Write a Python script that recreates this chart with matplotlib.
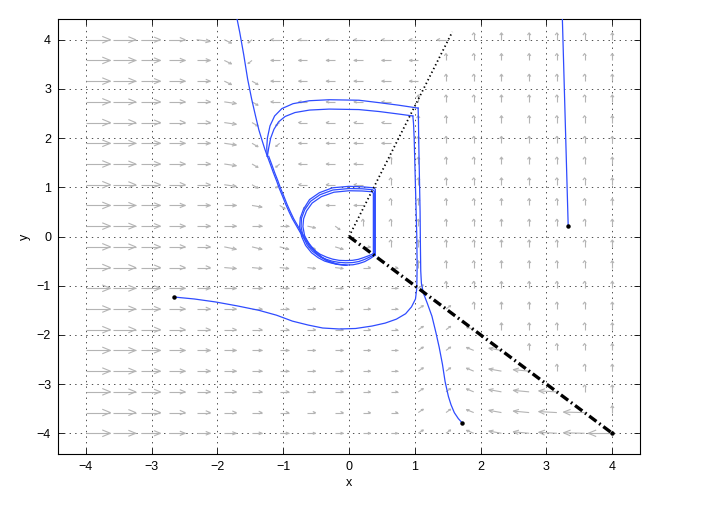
import numpy as np
import matplotlib
matplotlib.use("Agg")
import matplotlib.pyplot as plt
from matplotlib.collections import LineCollection

# ---------------- data ----------------
grid_x = np.linspace(-4, 4, 20)
grid_y = np.linspace(-4, 4, 20)

# drawn length (x units) of the right-pointing arrows, per column
u_right = [0.375, 0.339, 0.293, 0.248, 0.208, 0.182, 0.152, 0.137, 0.122, 0.122,
           0.114, 0.106, 0.076, 0.07, 0, 0, 0, 0, 0, 0]
v_right_low = [0, 0, 0, 0, 0, 0, 0, 0, 0, 0, 0, 0, 0.068, 0.068, 0, 0, 0, 0, 0, 0]
# lower-right sector (below the dash-dot line), per column
u_lowright = [0, 0, 0, 0, 0, 0, 0, 0, 0, 0, 0, 0, 0, 0,
              -0.11, -0.19, -0.24, -0.275, -0.32, -0.365]
v_lowright = [0, 0, 0, 0, 0, 0, 0, 0, 0, 0, 0, 0, 0, 0,
              0.06, 0.045, 0.03, 0.02, 0.01, 0.0]
# upward sector and upper-middle leftward arrows
v_up = 0.14
u_leftmid = -0.135
# switching x per row (upper half), nan where absent
g_rows = [np.nan] * 10 + [0.1, -0.85, -1.1, -1.2, -1.25, -1.3, -1.36, -1.42, -1.5, -1.6]

# guide lines
dot_line_x = [0, 1.57]
dot_line_y = [0, 4.16]
dash_line_x = [0, 4]
dash_line_y = [0, -4]

# trajectories
traj_top_x = [-1.72, -1.66, -1.60, -1.54, -1.48, -1.42, -1.37, -1.32, -1.28, -1.24]
traj_top_y = [4.55, 4.15, 3.7, 3.2, 2.8, 2.45, 2.17, 1.95, 1.78, 1.63]
traj_down_x = [-1.24, -1.19, -1.15, -1.10, -1.06, -1.01, -0.96, -0.91, -0.86, -0.80,
               -0.74, -0.67, -0.60, -0.52, -0.43, -0.33, -0.2, -0.05]
traj_down_y = [1.63, 1.45, 1.3, 1.13, 0.98, 0.82, 0.65, 0.5, 0.36, 0.22,
               0.08, -0.06, -0.19, -0.31, -0.42, -0.5, -0.56, -0.585]

traj_a_x = [-2.66, -2.35, -2.03, -1.7, -1.37, -1.1, -0.86, -0.62, -0.4, -0.15, 0.1,
            0.35, 0.55, 0.72, 0.86, 0.95, 1.01, 1.03, 1.035, 1.03, 1.02, 1.01,
            1.0, 0.99, 0.98, 0.97]
traj_a_y = [-1.23, -1.27, -1.33, -1.41, -1.5, -1.6, -1.72, -1.8, -1.86, -1.88, -1.87,
            -1.82, -1.76, -1.68, -1.57, -1.43, -1.27, -1.05, -0.6, 0.0, 0.5, 1.0,
            1.5, 2.0, 2.3, 2.45]
arc_in_x = [0.97, 0.75, 0.46, 0.15, -0.3, -0.6, -0.82, -0.97, -1.07, -1.14, -1.19, -1.22, -1.24]
arc_in_y = [2.45, 2.49, 2.54, 2.58, 2.59, 2.57, 2.52, 2.44, 2.33, 2.18, 2.0, 1.8, 1.63]

traj_b_x = [1.72, 1.66, 1.60, 1.55, 1.51, 1.46, 1.42, 1.37, 1.32, 1.26, 1.19, 1.13,
            1.1, 1.09, 1.085, 1.08, 1.07, 1.06, 1.055, 1.05]
traj_b_y = [-3.79, -3.7, -3.58, -3.42, -3.25, -2.95, -2.6, -2.25, -1.95, -1.62, -1.36,
            -1.15, -0.95, -0.7, -0.2, 0.5, 1.2, 1.9, 2.35, 2.61]
arc_out_x = [1.05, 0.75, 0.46, 0.15, -0.3, -0.6, -0.85, -1.02, -1.13, -1.2, -1.24, -1.25, -1.24]
arc_out_y = [2.61, 2.67, 2.72, 2.77, 2.78, 2.76, 2.7, 2.6, 2.45, 2.25, 2.0, 1.8, 1.63]

traj_c_x = [3.33, 3.24]
traj_c_y = [0.22, 4.5]

loop1_x = [0.40, 0.40, 0.40, 0.40, 0.37, 0.2, 0.0, -0.25, -0.45, -0.6, -0.69, -0.74,
           -0.75, -0.72, -0.66, -0.57, -0.47, -0.37, -0.27, -0.16, -0.05, 0.06, 0.15,
           0.24, 0.32, 0.40]
loop1_y = [-0.38, 0.2, 0.6, 0.96, 0.99, 1.01, 1.02, 0.99, 0.89, 0.75, 0.56, 0.38,
           0.2, 0.0, -0.18, -0.33, -0.43, -0.5, -0.54, -0.57, -0.58, -0.575, -0.55,
           -0.51, -0.45, -0.38]
loop2_x = [0.385, 0.385, 0.385, 0.385, 0.36, 0.2, 0.0, -0.245, -0.44, -0.585, -0.675,
           -0.722, -0.728, -0.7, -0.64, -0.555, -0.455, -0.355, -0.26, -0.16, -0.05,
           0.055, 0.145, 0.23, 0.31, 0.385]
loop2_y = [-0.37, 0.2, 0.6, 0.92, 0.95, 0.97, 0.975, 0.945, 0.85, 0.715, 0.54, 0.37,
           0.2, 0.01, -0.16, -0.3, -0.4, -0.46, -0.5, -0.525, -0.535, -0.53, -0.51,
           -0.47, -0.42, -0.37]
loop3_x = [0.37, 0.37, 0.37, 0.37, 0.345, 0.2, 0.0, -0.23, -0.42, -0.56, -0.645,
           -0.69, -0.7, -0.675, -0.615, -0.535, -0.44, -0.34, -0.25, -0.15, -0.05,
           0.05, 0.14, 0.22, 0.3, 0.37]
loop3_y = [-0.35, 0.2, 0.6, 0.88, 0.91, 0.925, 0.93, 0.9, 0.81, 0.68, 0.52, 0.36,
           0.2, 0.02, -0.14, -0.27, -0.36, -0.42, -0.46, -0.485, -0.49, -0.485, -0.465,
           -0.43, -0.39, -0.35]

start_x = [-2.66, 1.72, 3.33, 4.0]
start_y = [-1.23, -3.79, 0.22, -4.0]

# ---------------- build the arrow field ----------------
X, Y = np.meshgrid(grid_x, grid_y)
U = np.zeros_like(X)
V = np.zeros_like(X)
dot_angle = np.degrees(np.arctan2(dot_line_y[1], dot_line_x[1]))
for j in range(len(grid_y)):
    for i in range(len(grid_x)):
        x, y = grid_x[i], grid_y[j]
        th = np.degrees(np.arctan2(y, x))
        if -45 + 1e-6 < th < dot_angle:
            U[j, i], V[j, i] = 0.0, v_up
            continue
        if th <= -45 + 1e-6 and i >= 14:
            U[j, i], V[j, i] = u_lowright[i], v_lowright[i]
            continue
        g = g_rows[j]
        if not np.isnan(g) and x > g:
            d = x - g
            if d < 0.3:
                U[j, i], V[j, i] = -0.06, -0.065
            else:
                U[j, i], V[j, i] = u_leftmid, 0.0
            continue
        U[j, i] = u_right[i]
        V[j, i] = v_right_low[i]
        if not np.isnan(g):
            d = g - x
            if d < 0.5:
                U[j, i] *= 0.6
                V[j, i] = -0.07
            elif d < 0.8:
                V[j, i] = -0.035
        elif j == 9 and 5 <= i <= 9:
            V[j, i] = -0.05
        elif j == 8 and 5 <= i <= 9:
            V[j, i] = -0.02

# MATLAB-style open arrow heads
alpha, beta = 0.33, 0.55
segs = []
for x, y, u, v in zip(X.ravel(), Y.ravel(), U.ravel(), V.ravel()):
    if u == 0 and v == 0:
        continue
    tx, ty = x + u, y + v
    segs.append([(x, y), (tx, ty)])
    segs.append([(tx - alpha * (u + beta * v), ty - alpha * (v - beta * u)), (tx, ty),
                 (tx - alpha * (u - beta * v), ty - alpha * (v + beta * u))])

# ---------------- draw ----------------
plt.rcParams["font.family"] = ["Liberation Sans", "DejaVu Sans"]
plt.rcParams["lines.scale_dashes"] = False
fig = plt.figure(figsize=(7.06, 5.09), dpi=100)
ax = fig.add_axes([58 / 706, 55 / 509, 582 / 706, 435 / 509])

lim = 4 + 8 / 19
ax.set_xlim(-lim, lim)
ax.set_ylim(-lim, lim)
ax.set_xticks(range(-4, 5))
ax.set_yticks(range(-4, 5))
ax.grid(True, linestyle=(0, (1, 3)), color="0.3", linewidth=0.7)
ax.set_axisbelow(True)

ax.add_collection(LineCollection(segs, colors="#b4b4b4", linewidths=0.8, zorder=2))

blue = "#2f4cff"
lw = 0.9
for xs, ys in [(traj_top_x, traj_top_y), (traj_down_x, traj_down_y),
               (traj_a_x, traj_a_y), (arc_in_x, arc_in_y),
               (traj_b_x, traj_b_y), (arc_out_x, arc_out_y),
               (traj_c_x, traj_c_y), (loop1_x, loop1_y),
               (loop2_x, loop2_y), (loop3_x, loop3_y)]:
    ax.plot(xs, ys, color=blue, lw=lw, zorder=3, solid_joinstyle="round")
# descending copy of the merged arcs
ax.plot(np.array(traj_down_x) + 0.02, traj_down_y, color=blue, lw=lw, zorder=3)

ax.plot(dot_line_x, dot_line_y, color="black", lw=1.3, dashes=(1.0, 2.0), zorder=4)
ax.plot(dash_line_x, dash_line_y, color="black", lw=2.4,
        dashes=(6.5, 2.5, 1.2, 2.5), zorder=4)
ax.plot(start_x, start_y, "o", color="black", ms=2.2, zorder=5)

ax.tick_params(direction="in", top=True, right=True, length=4, width=0.6,
               labelsize=9, pad=5)
for s in ax.spines.values():
    s.set_linewidth(0.8)
ax.set_xlabel("x", fontsize=9, labelpad=3)
ax.set_ylabel("y", fontsize=9, labelpad=4)

fig.savefig("out.png", dpi=100)
